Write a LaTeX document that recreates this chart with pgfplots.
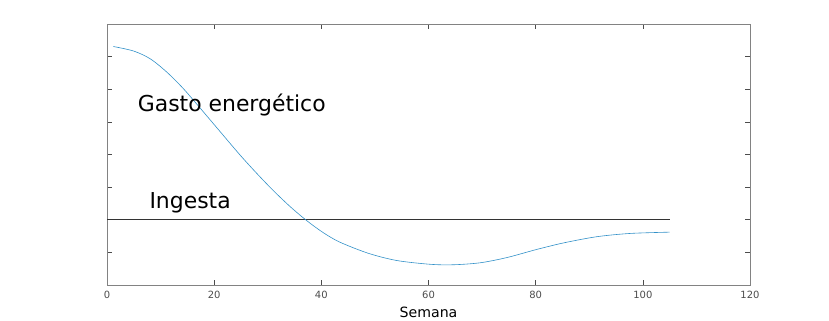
\documentclass[border=0pt]{standalone}
\usepackage{pgfplots}
\pgfplotsset{compat=1.18}
\usepackage{fontspec}
\setmainfont{DejaVu Sans}
\definecolor{curve}{RGB}{50,145,200}
\definecolor{axgray}{RGB}{130,130,130}
\begin{document}
\begin{tikzpicture}
\useasboundingbox (-107bp,-36bp) rectangle (722bp,285bp);
\begin{axis}[
  at={(0,0)}, anchor=south west,
  scale only axis, width=643bp, height=261bp,
  xmin=0, xmax=120, ymin=0, ymax=8,
  xtick={0,20,...,120}, ytick={1,2,...,7}, yticklabels={},
  tick align=inside, major tick length=5bp,
  axis line style={axgray, line width=0.8pt},
  tick style={black!70, line width=0.6pt},
  /pgf/number format/assume math mode=true,
  xticklabel style={font=\fontsize{10}{12}\selectfont, text=black!70, anchor=base, yshift=-13.7bp},
  xlabel={Semana},
  xlabel style={font=\fontsize{14.2}{16}\selectfont, at={(axis description cs:0.5,-0.124)}, anchor=base},
]
\addplot[black!80, line width=0.6pt] coordinates {(0,2) (105,2)};
\addplot[curve, line width=0.6pt, smooth] coordinates {
(1.2,7.31) (5,7.17) (8.1,6.93) (11.2,6.52) (14.3,6.01) (17.4,5.42) (20.5,4.82)
(24.8,3.99) (27.9,3.43) (31.0,2.90) (34.2,2.40) (37.3,1.97) (40.4,1.60) (43.5,1.31)
(48.8,0.97) (54.1,0.75) (60.3,0.635) (64.6,0.62) (69.6,0.68) (74.6,0.84) (80.2,1.09)
(85.2,1.29) (91.4,1.48) (97.6,1.58) (105,1.62)};
\node[anchor=base west, inner sep=0, font=\fontsize{22}{26}\selectfont] at (axis cs:5.72,5.33) {Gasto energético};
\node[anchor=base west, inner sep=0, font=\fontsize{22}{26}\selectfont] at (axis cs:7.9,2.36) {Ingesta};
\end{axis}
\end{tikzpicture}
\end{document}
